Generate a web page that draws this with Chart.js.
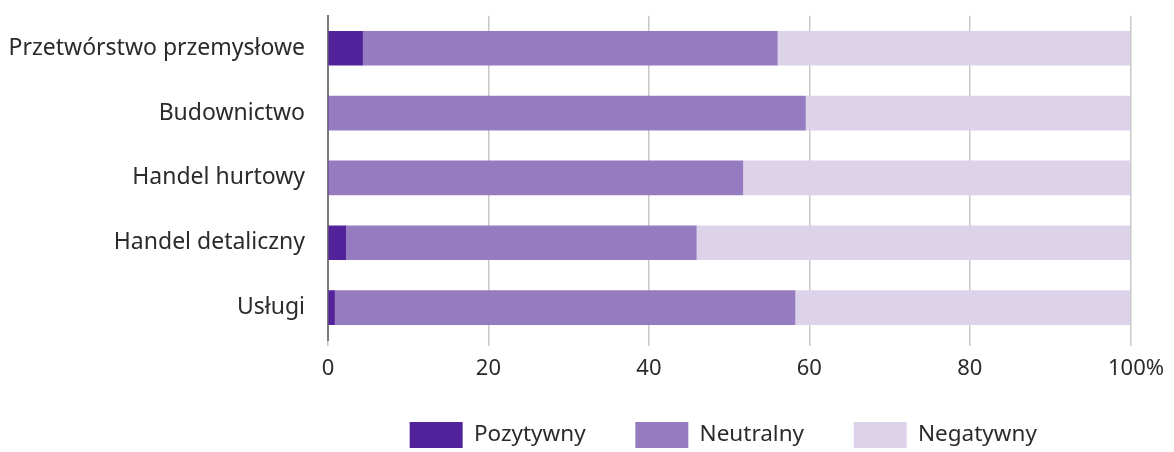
<!DOCTYPE html>
<html>
<head>
<meta charset="utf-8">
<script src="https://cdn.jsdelivr.net/npm/chart.js@4"></script>
<style>
  html, body { margin: 0; padding: 0; background: #fff; }
  #wrap { width: 1174px; height: 452px; position: relative; }
</style>
</head>
<body>
<div id="wrap"><canvas id="chart1"></canvas></div>
<script>
const categories = ['Przetwórstwo przemysłowe', 'Budownictwo', 'Handel hurtowy', 'Handel detaliczny', 'Usługi'];
const pozytywny = [4.3, 0, 0, 2.2, 0.8];
const neutralny = [51.7, 59.5, 51.7, 43.7, 57.4];
const negatywny = [44.0, 40.5, 48.3, 54.1, 41.8];
const xTicks = [0, 20, 40, 60, 80, 100];

const FONT = "'Noto Sans', sans-serif";
Chart.defaults.font.family = FONT;
Chart.defaults.color = '#2b2b2b';

const data = {
    labels: categories,
    datasets: [{
        label: 'Pozytywny',
        data: pozytywny,
        backgroundColor: '#52229a'
    },
    {
        label: 'Neutralny',
        data: neutralny,
        backgroundColor: '#957bbf'
    },
    {
        label: 'Negatywny',
        data: negatywny,
        backgroundColor: '#dcd2ea'
    }]
};

const config = {
    type: 'bar',
    data: data,
    options: {
        indexAxis: 'y',
        responsive: false,
        animation: false,
        barThickness: 34,
        layout: { padding: { top: 0, right: 38, left: 0, bottom: 0 } },
        scales: {
            x: {
                stacked: true,
                min: 0,
                max: 100,
                afterBuildTicks: function (scale) {
                    scale.ticks = xTicks.map(v => ({ value: v }));
                },
                afterFit: function (scale) { scale.height = 44; },
                ticks: {
                    font: { size: 22 },
                    padding: 10,
                    // leading spaces so "100" stays on the tick and % hangs right
                    callback: function (v) { return v === 100 ? '  100%' : v; }
                },
                grid: {
                    color: '#c8c8c8',
                    lineWidth: 1.5,
                    tickLength: 6,
                    drawTicks: true
                },
                border: { display: false }
            },
            y: {
                stacked: true,
                afterFit: function (scale) { scale.width = 328; },
                ticks: {
                    font: { size: 23 },
                    padding: 2
                },
                // transparent grid only so the tick length gives the label gap
                grid: { display: true, color: 'rgba(0,0,0,0)', drawTicks: true, tickLength: 21 },
                border: { display: true, color: '#7a7a7a', width: 2 }
            }
        },
        plugins: {
            tooltip: { enabled: false },
            legend: {
                position: 'bottom',
                fullSize: false,
                maxHeight: 68,
                labels: {
                    boxWidth: 53,
                    boxHeight: 26,
                    padding: 38,
                    font: { size: 22.5 },
                    color: '#2b2b2b',
                    // a little extra room after each label text
                    generateLabels: function (chart) {
                        let items = Chart.defaults.plugins.legend.labels.generateLabels(chart);
                        items.forEach(function (it) { it.text = it.text + '  '; });
                        return items;
                    }
                }
            }
        }
    }
};

const ctx = document.getElementById('chart1');
ctx.width = 1174;
ctx.height = 452;
let chart = new Chart(ctx, config);
</script>
</body>
</html>
